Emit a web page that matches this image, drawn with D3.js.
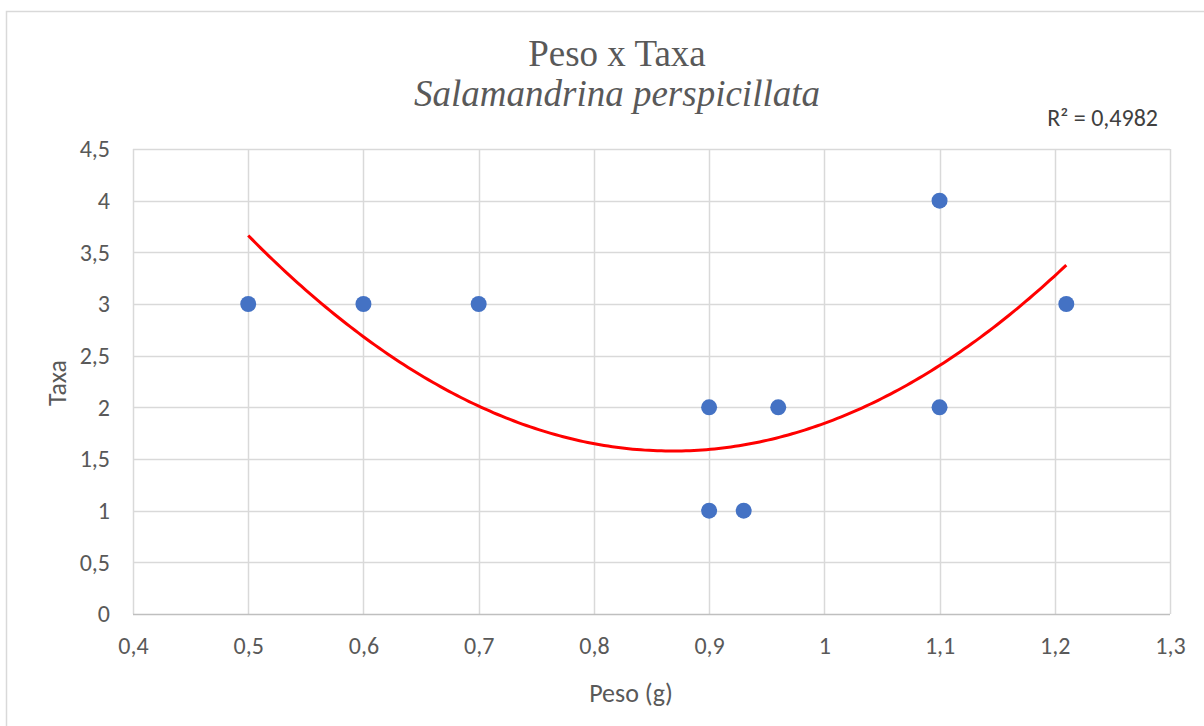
<!DOCTYPE html>
<html><head><meta charset="utf-8">
<script src="https://cdn.jsdelivr.net/npm/d3@7"></script>
<style>html,body{margin:0;padding:0;background:#fff;overflow:hidden}</style>
</head><body>
<svg id="c" width="1204" height="726"></svg>
<script>
const peso = [0.5, 0.6, 0.7, 0.9, 0.9, 0.93, 0.96, 1.1, 1.1, 1.21];
const taxa = [3, 3, 3, 2, 1, 1, 2, 4, 2, 3];
const xTicks = [0.4, 0.5, 0.6, 0.7, 0.8, 0.9, 1.0, 1.1, 1.2, 1.3];
const yTicks = [0, 0.5, 1, 1.5, 2, 2.5, 3, 3.5, 4, 4.5];
// polynomial (order 2) trendline: c0 + c1*x + c2*x^2
const trendCoef = [13.175, -26.72, 15.39];
const rSquared = "R² = 0,4982";
const title = "Peso x Taxa";
const subtitle = "Salamandrina perspicillata";
const xTitle = "Peso (g)";
const yTitle = "Taxa";

const SERIF = "'Liberation Serif', 'Times New Roman', serif";
const SANS = "Carlito, Calibri, Lato, sans-serif";
const svg = d3.select("#c");
const fmt = v => String(+v.toFixed(2)).replace(".", ",");
const L = 133, R = 1170, T = 149, B = 614;
const x = d3.scaleLinear().domain([0.4, 1.3]).range([L, R]);
const y = d3.scaleLinear().domain([0, 4.5]).range([B, T]);
const textCol = "#595959";

svg.append("rect").attr("x", 6.5).attr("y", 11.5).attr("width", 1400).attr("height", 900)
  .attr("fill", "#fff").attr("stroke", "#d9d9d9").attr("stroke-width", 1.5);

// gridlines
const g = svg.append("g");
g.selectAll(".vg").data(xTicks).join("line")
  .attr("x1", d => Math.round(x(d)) + 0.5).attr("x2", d => Math.round(x(d)) + 0.5)
  .attr("y1", T).attr("y2", B).attr("stroke", "#d9d9d9").attr("stroke-width", 1.5);
g.selectAll(".hg").data(yTicks).join("line")
  .attr("y1", d => Math.round(y(d)) + 0.5).attr("y2", d => Math.round(y(d)) + 0.5)
  .attr("x1", L).attr("x2", R).attr("stroke", d => d === 0 ? "#bfbfbf" : "#d9d9d9").attr("stroke-width", 1.5);

// axes labels via d3 axes
const xAxis = svg.append("g").attr("transform", `translate(0,${B})`)
  .call(d3.axisBottom(x).tickValues(xTicks).tickFormat(fmt).tickSize(0).tickPadding(23));
const yAxis = svg.append("g").attr("transform", `translate(${L},0)`)
  .call(d3.axisLeft(y).tickValues(yTicks).tickFormat(fmt).tickSize(0).tickPadding(23));
[xAxis, yAxis].forEach(a => {
  a.select(".domain").remove();
  a.attr("font-family", SANS).attr("font-size", 24);
  a.selectAll("text").attr("fill", textCol);
});

// trendline
const tr = d3.range(0, 201).map(i => 0.5 + (1.21 - 0.5) * i / 200);
const poly = v => trendCoef[0] + trendCoef[1] * v + trendCoef[2] * v * v;
svg.append("path").datum(tr)
  .attr("d", d3.line().x(d => x(d)).y(d => y(poly(d))))
  .attr("fill", "none").attr("stroke", "#ff0000").attr("stroke-width", 3);

// points
svg.append("g").selectAll("circle").data(peso.map((p, i) => [p, taxa[i]])).join("circle")
  .attr("cx", d => x(d[0])).attr("cy", d => y(d[1])).attr("r", 8).attr("fill", "#4472c4");

// titles
svg.append("text").attr("x", 617).attr("y", 66).attr("text-anchor", "middle")
  .attr("font-family", SERIF).attr("font-size", 37).attr("fill", textCol).text(title);
svg.append("text").attr("x", 617).attr("y", 106).attr("text-anchor", "middle")
  .attr("font-family", SERIF).attr("font-size", 37).attr("font-style", "italic")
  .attr("fill", textCol).text(subtitle);
svg.append("text").attr("x", 1158).attr("y", 126).attr("text-anchor", "end")
  .attr("font-family", SANS).attr("font-size", 24).attr("fill", "#404040").text(rSquared);

svg.append("text").attr("x", 631).attr("y", 702).attr("text-anchor", "middle")
  .attr("font-family", SANS).attr("font-size", 26).attr("fill", textCol).text(xTitle);
svg.append("text").attr("transform", "translate(66,383) rotate(-90)").attr("text-anchor", "middle")
  .attr("font-family", SANS).attr("font-size", 26).attr("fill", textCol).text(yTitle);
</script>
</body></html>
